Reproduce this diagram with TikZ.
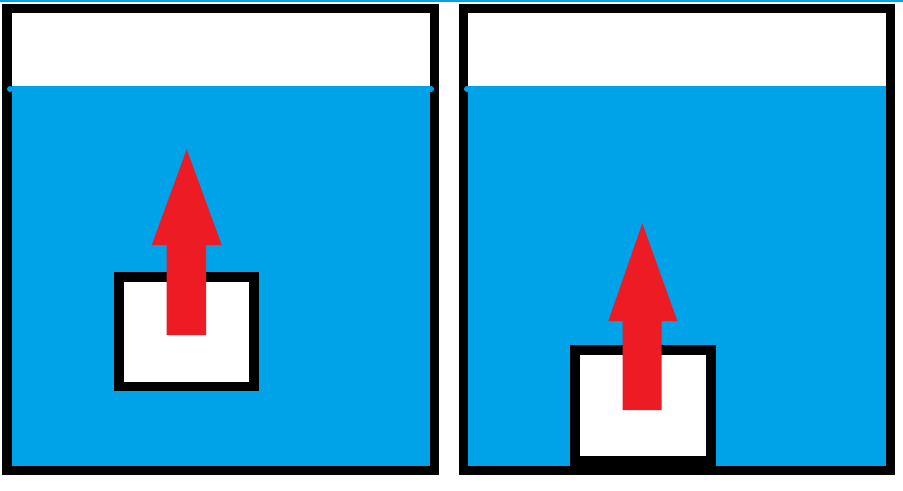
\documentclass[tikz,border=0pt]{standalone}
\usepackage{tikz}
\definecolor{paintblue}{RGB}{0,162,232}
\definecolor{paintred}{RGB}{237,28,36}
\tikzset{
  tank/.style={draw=black, line width=0.09cm},
  water/.style={fill=paintblue},
  box/.style={draw=black, fill=white, line width=0.095cm},
  lift/.style={fill=paintred},
  dot/.style={fill=paintblue}
}

\begin{document}
\begin{tikzpicture}[x=0.01cm, y=-0.01cm]
  \useasboundingbox[fill=white] (0,0) rectangle (903,490);
  \draw[paintblue, line width=0.02cm] (0,1) -- (903,1);
  % left tank: block floating
  \fill[water] (7,86) rectangle (434.5,470.5);
  \draw[box] (119,277) rectangle (254,386.5);
  \fill[lift] (166.7,335) -- (166.7,245) -- (151.7,245) -- (186.7,149.3)
    -- (221.7,245) -- (206,245) -- (206,335) -- cycle;
  \draw[tank] (7,8) rectangle (434.5,470.5);
  % right tank: block on the floor
  \fill[water] (463.5,86) rectangle (890.5,470.5);
  \draw[box] (575,350) rectangle (711,461);
  \fill[lift] (622.7,410) -- (622.7,321) -- (608.3,321) -- (642.3,223.3)
    -- (677.3,321) -- (661.7,321) -- (661.7,410) -- cycle;
  \draw[tank] (463.5,8) rectangle (890.5,470.5);
  % water line ends
  \fill[dot] (10,89) circle (3);
  \fill[dot] (431,89) circle (3);
  \fill[dot] (467,89) circle (3);
\end{tikzpicture}
\end{document}
